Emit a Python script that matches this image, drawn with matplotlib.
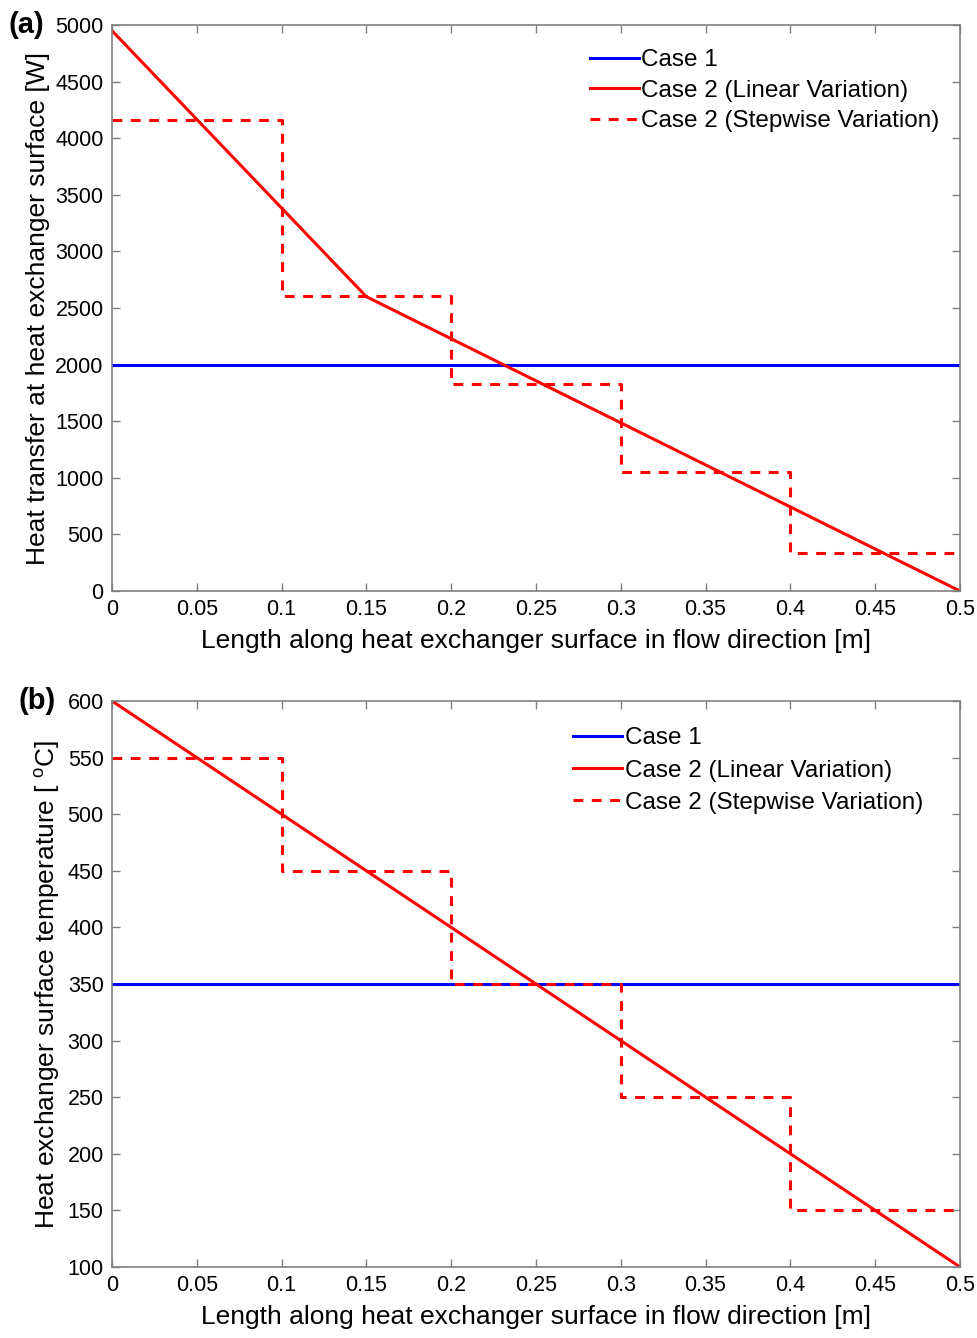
import matplotlib
matplotlib.use('Agg')
import matplotlib.pyplot as plt

plt.rcParams['font.family'] = ['Liberation Sans', 'DejaVu Sans']
plt.rcParams['mathtext.fontset'] = 'custom'
plt.rcParams['mathtext.rm'] = 'Liberation Sans'

# panel (a): heat transfer [W]
x_lin_a = [0, 0.15, 0.5]
q_lin_a = [4950, 2600, 0]
x_step = [0, 0.1, 0.2, 0.3, 0.4, 0.5]
q_step_a = [4160, 2610, 1830, 1050, 335]
q_case1 = 2000

# panel (b): surface temperature [oC]
x_lin_b = [0, 0.5]
t_lin_b = [600, 100]
t_step_b = [550, 450, 350, 250, 150]
t_case1 = 350

xticks = [0, 0.05, 0.1, 0.15, 0.2, 0.25, 0.3, 0.35, 0.4, 0.45, 0.5]
xtick_labels = ['0', '0.05', '0.1', '0.15', '0.2', '0.25', '0.3', '0.35', '0.4', '0.45', '0.5']
legend_labels = ['Case 1', 'Case 2 (Linear Variation)', 'Case 2 (Stepwise Variation)']


def step_xy(edges, vals):
    xs, ys = [], []
    for i, v in enumerate(vals):
        xs += [edges[i], edges[i + 1]]
        ys += [v, v]
    return xs, ys


def style_axes(ax, ylim, yticks):
    ax.set_xlim(0, 0.5)
    ax.set_ylim(*ylim)
    ax.set_xticks(xticks)
    ax.set_xticklabels(xtick_labels)
    ax.set_yticks(yticks)
    ax.tick_params(direction='in', top=True, right=True, length=6,
                   width=1, color='#808080', labelsize=15.5, pad=6)
    for s in ax.spines.values():
        s.set_color('#808080')
        s.set_linewidth(1.2)
    ax.set_xlabel('Length along heat exchanger surface in flow direction [m]',
                  fontsize=19, labelpad=6)


fig = plt.figure(figsize=(9.78, 13.38), dpi=100)
ax1 = fig.add_axes([0.1145, 0.5583, 0.867, 0.423])
ax2 = fig.add_axes([0.1145, 0.0531, 0.867, 0.423])

lw = 2.2
leg_kw = dict(loc='upper right', frameon=False, fontsize=17.5, handlelength=2.0,
              handletextpad=0.1, labelspacing=0.35)
# (a)
ax1.plot([0, 0.5], [q_case1, q_case1], color='#0000ff', lw=lw, label=legend_labels[0])
ax1.plot(x_lin_a, q_lin_a, color='#ff0000', lw=lw, label=legend_labels[1])
xs, ys = step_xy(x_step, q_step_a)
ax1.plot(xs, ys, color='#ff0000', lw=lw, ls=(0, (3.2, 2.8)), label=legend_labels[2])
style_axes(ax1, (0, 5000), range(0, 5001, 500))
ax1.set_ylabel('Heat transfer at heat exchanger surface [W]', fontsize=19, labelpad=4)
ax1.legend(bbox_to_anchor=(1.002, 0.996), **leg_kw)
ax1.text(-0.122, 1.0, '(a)', transform=ax1.transAxes, fontsize=21,
         fontweight='bold', ha='left', va='center')

# (b)
ax2.plot([0, 0.5], [t_case1, t_case1], color='#0000ff', lw=lw, label=legend_labels[0])
ax2.plot(x_lin_b, t_lin_b, color='#ff0000', lw=lw, label=legend_labels[1])
xs, ys = step_xy(x_step, t_step_b)
ax2.plot(xs, ys, color='#ff0000', lw=lw, ls=(0, (3.2, 2.8)), label=legend_labels[2])
style_axes(ax2, (100, 600), range(100, 601, 50))
ax2.set_ylabel(r'Heat exchanger surface temperature [ $^{\rm o}$C]', fontsize=19, labelpad=4)
leg_kw['labelspacing'] = 0.42
ax2.legend(bbox_to_anchor=(0.982, 0.992), **leg_kw)
ax2.text(-0.11, 1.0, '(b)', transform=ax2.transAxes, fontsize=21,
         fontweight='bold', ha='left', va='center')

fig.savefig('out.png', dpi=100)
